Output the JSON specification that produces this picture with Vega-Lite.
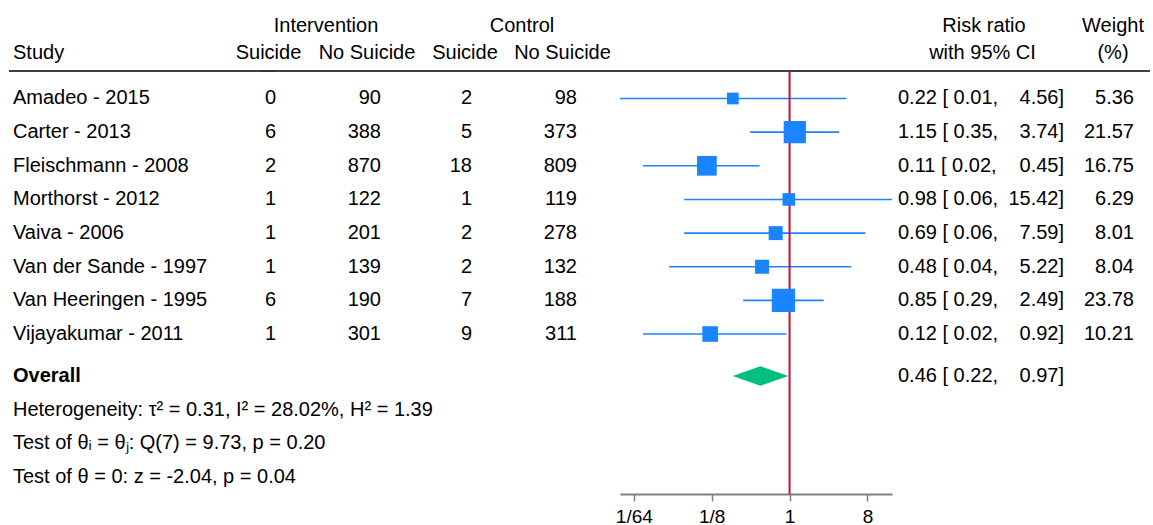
{
  "$schema": "https://vega.github.io/schema/vega-lite/v6.json",
  "padding": {"left": 8, "top": 15, "right": 4, "bottom": 0},
  "config": {
    "view": {"stroke": null},
    "font": "Liberation Sans",
    "text": {"fontSize": 20, "font": "Liberation Sans", "color": "black"},
    "title": {"fontSize": 20, "fontWeight": "normal", "font": "Liberation Sans", "color": "black", "frame": "group", "baseline": "alphabetic", "offset": 7.5, "anchor": "middle"}
  },
  "datasets": {
    "studies": [
      {"label": "Amadeo - 2015", "is": 0, "ins": 90, "cs": 2, "cns": 98, "rr": 0.22, "lo": 0.0108, "hi": 4.56, "w": 5.36},
      {"label": "Carter - 2013", "is": 6, "ins": 388, "cs": 5, "cns": 373, "rr": 1.15, "lo": 0.35, "hi": 3.74, "w": 21.57},
      {"label": "Fleischmann - 2008", "is": 2, "ins": 870, "cs": 18, "cns": 809, "rr": 0.11, "lo": 0.02, "hi": 0.45, "w": 16.75},
      {"label": "Morthorst - 2012", "is": 1, "ins": 122, "cs": 1, "cns": 119, "rr": 0.98, "lo": 0.06, "hi": 15.42, "w": 6.29},
      {"label": "Vaiva - 2006", "is": 1, "ins": 201, "cs": 2, "cns": 278, "rr": 0.69, "lo": 0.06, "hi": 7.59, "w": 8.01},
      {"label": "Van der Sande - 1997", "is": 1, "ins": 139, "cs": 2, "cns": 132, "rr": 0.48, "lo": 0.04, "hi": 5.22, "w": 8.04},
      {"label": "Van Heeringen - 1995", "is": 6, "ins": 190, "cs": 7, "cns": 188, "rr": 0.85, "lo": 0.29, "hi": 2.49, "w": 23.78},
      {"label": "Vijayakumar - 2011", "is": 1, "ins": 301, "cs": 9, "cns": 311, "rr": 0.12, "lo": 0.02, "hi": 0.92, "w": 10.21}
    ],
    "overall": [
      {"label": "Overall", "rr": 0.46, "lo": 0.22, "hi": 0.97}
    ],
    "stats": [
      {"label": "Heterogeneity: τ² = 0.31, I² = 28.02%, H² = 1.39"},
      {"label": "Test of θᵢ = θⱼ: Q(7) = 9.73, p = 0.20"},
      {"label": "Test of θ = 0: z = -2.04, p = 0.04"}
    ]
  },
  "spacing": 0,
  "bounds": "flush",
  "hconcat": [
    {
      "width": 250, "height": 423,
      "title": {"text": "Study", "anchor": "start", "dx": 4},
      "layer": [
        {"data": {"name": "overall"}, "mark": {"type": "rule", "color": "black", "strokeWidth": 1.6}, "encoding": {"x": {"value": 0}, "x2": {"value": "width"}, "y": {"value": 0}}},
        {"data": {"name": "studies"}, "mark": {"type": "text", "align": "left", "dx": 4},
         "encoding": {"x": {"value": 0}, "text": {"field": "label"},
          "y": {"field": "label", "type": "nominal", "axis": null, "scale": {"type": "point", "domain": ["Amadeo - 2015","Carter - 2013","Fleischmann - 2008","Morthorst - 2012","Vaiva - 2006","Van der Sande - 1997","Van Heeringen - 1995","Vijayakumar - 2011","Overall","Heterogeneity: τ² = 0.31, I² = 28.02%, H² = 1.39","Test of θᵢ = θⱼ: Q(7) = 9.73, p = 0.20","Test of θ = 0: z = -2.04, p = 0.04"], "padding": 0.7855, "align": 0.52}}}},
        {"data": {"name": "overall"}, "mark": {"type": "text", "align": "left", "dx": 4, "yOffset": 8.3, "fontWeight": "bold"},
         "encoding": {"x": {"value": 0}, "text": {"field": "label"}, "y": {"field": "label", "type": "nominal"}}},
        {"data": {"name": "stats"}, "mark": {"type": "text", "align": "left", "dx": 4, "yOffset": 8.3},
         "encoding": {"x": {"value": 0}, "text": {"field": "label"}, "y": {"field": "label", "type": "nominal"}}}
      ]
    },
    {
      "width": 1, "height": 423,
      "title": {"text": "Intervention", "dx": 66.5, "offset": 34.5},
      "layer": [
        {"data": {"name": "overall"}, "mark": {"type": "rule", "color": "black", "strokeWidth": 1.6}, "encoding": {"x": {"value": 0}, "x2": {"value": "width"}, "y": {"value": 0}}}
      ]
    },
    {
      "width": 16, "height": 423,
      "title": {"text": "Suicide", "dx": 0.5},
      "layer": [
        {"data": {"name": "overall"}, "mark": {"type": "rule", "color": "black", "strokeWidth": 1.6}, "encoding": {"x": {"value": 0}, "x2": {"value": "width"}, "y": {"value": 0}}},
        {"data": {"name": "studies"}, "mark": {"type": "text", "align": "right"},
         "encoding": {"x": {"value": "width"}, "text": {"field": "is", "type": "quantitative"},
          "y": {"field": "label", "type": "nominal", "axis": null, "scale": {"type": "point", "domain": ["Amadeo - 2015","Carter - 2013","Fleischmann - 2008","Morthorst - 2012","Vaiva - 2006","Van der Sande - 1997","Van Heeringen - 1995","Vijayakumar - 2011","Overall","Heterogeneity: τ² = 0.31, I² = 28.02%, H² = 1.39","Test of θᵢ = θⱼ: Q(7) = 9.73, p = 0.20","Test of θ = 0: z = -2.04, p = 0.04"], "padding": 0.7855, "align": 0.52}}}}
      ]
    },
    {
      "width": 105, "height": 423,
      "title": {"text": "No Suicide", "dx": 38.5},
      "layer": [
        {"data": {"name": "overall"}, "mark": {"type": "rule", "color": "black", "strokeWidth": 1.6}, "encoding": {"x": {"value": 0}, "x2": {"value": "width"}, "y": {"value": 0}}},
        {"data": {"name": "studies"}, "mark": {"type": "text", "align": "right"},
         "encoding": {"x": {"value": "width"}, "text": {"field": "ins", "type": "quantitative"},
          "y": {"field": "label", "type": "nominal", "axis": null, "scale": {"type": "point", "domain": ["Amadeo - 2015","Carter - 2013","Fleischmann - 2008","Morthorst - 2012","Vaiva - 2006","Van der Sande - 1997","Van Heeringen - 1995","Vijayakumar - 2011","Overall","Heterogeneity: τ² = 0.31, I² = 28.02%, H² = 1.39","Test of θᵢ = θⱼ: Q(7) = 9.73, p = 0.20","Test of θ = 0: z = -2.04, p = 0.04"], "padding": 0.7855, "align": 0.52}}}}
      ]
    },
    {
      "width": 1, "height": 423,
      "title": {"text": "Control", "dx": 140.5, "offset": 34.5},
      "layer": [
        {"data": {"name": "overall"}, "mark": {"type": "rule", "color": "black", "strokeWidth": 1.6}, "encoding": {"x": {"value": 0}, "x2": {"value": "width"}, "y": {"value": 0}}}
      ]
    },
    {
      "width": 90, "height": 423,
      "title": {"text": "Suicide", "dx": 38},
      "layer": [
        {"data": {"name": "overall"}, "mark": {"type": "rule", "color": "black", "strokeWidth": 1.6}, "encoding": {"x": {"value": 0}, "x2": {"value": "width"}, "y": {"value": 0}}},
        {"data": {"name": "studies"}, "mark": {"type": "text", "align": "right"},
         "encoding": {"x": {"value": "width"}, "text": {"field": "cs", "type": "quantitative"},
          "y": {"field": "label", "type": "nominal", "axis": null, "scale": {"type": "point", "domain": ["Amadeo - 2015","Carter - 2013","Fleischmann - 2008","Morthorst - 2012","Vaiva - 2006","Van der Sande - 1997","Van Heeringen - 1995","Vijayakumar - 2011","Overall","Heterogeneity: τ² = 0.31, I² = 28.02%, H² = 1.39","Test of θᵢ = θⱼ: Q(7) = 9.73, p = 0.20","Test of θ = 0: z = -2.04, p = 0.04"], "padding": 0.7855, "align": 0.52}}}}
      ]
    },
    {
      "width": 148, "height": 423,
      "title": {"text": "No Suicide", "dx": 16.5},
      "layer": [
        {"data": {"name": "overall"}, "mark": {"type": "rule", "color": "black", "strokeWidth": 1.6}, "encoding": {"x": {"value": 0}, "x2": {"value": "width"}, "y": {"value": 0}}},
        {"data": {"name": "studies"}, "mark": {"type": "text", "align": "right", "dx": -43},
         "encoding": {"x": {"value": "width"}, "text": {"field": "cns", "type": "quantitative"},
          "y": {"field": "label", "type": "nominal", "axis": null, "scale": {"type": "point", "domain": ["Amadeo - 2015","Carter - 2013","Fleischmann - 2008","Morthorst - 2012","Vaiva - 2006","Van der Sande - 1997","Van Heeringen - 1995","Vijayakumar - 2011","Overall","Heterogeneity: τ² = 0.31, I² = 28.02%, H² = 1.39","Test of θᵢ = θⱼ: Q(7) = 9.73, p = 0.20","Test of θ = 0: z = -2.04, p = 0.04"], "padding": 0.7855, "align": 0.52}}}}
      ]
    },
    {
      "width": 272, "height": 423,
      "layer": [
        {"data": {"name": "overall"}, "mark": {"type": "rule", "color": "black", "strokeWidth": 1.6}, "encoding": {"x": {"value": 0}, "x2": {"value": "width"}, "y": {"value": 0}}},
        {"data": {"name": "studies"}, "mark": {"type": "rule", "color": "#1A85FF", "strokeWidth": 1.6},
         "encoding": {
          "x": {"field": "lo", "type": "quantitative", "scale": {"type": "log", "base": 2, "nice": false, "zero": false},
                "axis": {"values": [0.015625, 0.125, 1, 8], "labelExpr": "datum.value < 1 ? '1/' + round(1 / datum.value) : '' + datum.value", "domainColor": "#808080", "domainWidth": 2, "tickColor": "#808080", "tickWidth": 1.5, "tickSize": 7, "labelFontSize": 19, "labelColor": "black", "labelFont": "Liberation Sans", "labelPadding": 6, "grid": false, "title": null, "labelFlush": false}},
          "x2": {"field": "hi"},
          "y": {"field": "label", "type": "nominal", "axis": null, "scale": {"type": "point", "domain": ["Amadeo - 2015","Carter - 2013","Fleischmann - 2008","Morthorst - 2012","Vaiva - 2006","Van der Sande - 1997","Van Heeringen - 1995","Vijayakumar - 2011","Overall","Heterogeneity: τ² = 0.31, I² = 28.02%, H² = 1.39","Test of θᵢ = θⱼ: Q(7) = 9.73, p = 0.20","Test of θ = 0: z = -2.04, p = 0.04"], "padding": 0.7855, "align": 0.52}}}},
        {"data": {"name": "overall"}, "mark": {"type": "rule", "color": "#C8102E", "strokeWidth": 2}, "encoding": {"x": {"datum": 1}}},
        {"data": {"name": "studies"}, "mark": {"type": "point", "shape": "square", "filled": true, "color": "#1A85FF", "opacity": 1, "strokeWidth": 0},
         "encoding": {"x": {"field": "rr", "type": "quantitative"}, "y": {"field": "label", "type": "nominal"},
          "size": {"field": "w", "type": "quantitative", "scale": {"domain": [0, 25], "range": [20, 570], "zero": false}, "legend": null}}},
        {"data": {"name": "overall"}, "mark": {"type": "point", "shape": "M -1 0 L 0 -0.35 L 1 0 L 0 0.35 Z", "filled": true, "color": "#00BF7F", "opacity": 1, "strokeWidth": 0, "size": 3100, "yOffset": 8.3},
         "encoding": {"x": {"field": "rr", "type": "quantitative"}, "y": {"field": "label", "type": "nominal"}}}
      ]
    },
    {
      "width": 1, "height": 423,
      "title": {"text": "Risk ratio", "dx": 91.5, "offset": 34.5},
      "layer": [
        {"data": {"name": "overall"}, "mark": {"type": "rule", "color": "black", "strokeWidth": 1.6}, "encoding": {"x": {"value": 0}, "x2": {"value": "width"}, "y": {"value": 0}}}
      ]
    },
    {
      "width": 171, "height": 423,
      "title": {"text": "with 95% CI", "dx": 4},
      "layer": [
        {"data": {"name": "overall"}, "mark": {"type": "rule", "color": "black", "strokeWidth": 1.6}, "encoding": {"x": {"value": 0}, "x2": {"value": "width"}, "y": {"value": 0}}},
        {"data": {"name": "studies"}, "mark": {"type": "text", "align": "left", "dx": 5, "text": {"expr": "format(datum.rr, '.2f') + ' [ ' + format(datum.lo, '.2f') + ','"}},
         "encoding": {"x": {"value": 0},
          "y": {"field": "label", "type": "nominal", "axis": null, "scale": {"type": "point", "domain": ["Amadeo - 2015","Carter - 2013","Fleischmann - 2008","Morthorst - 2012","Vaiva - 2006","Van der Sande - 1997","Van Heeringen - 1995","Vijayakumar - 2011","Overall","Heterogeneity: τ² = 0.31, I² = 28.02%, H² = 1.39","Test of θᵢ = θⱼ: Q(7) = 9.73, p = 0.20","Test of θ = 0: z = -2.04, p = 0.04"], "padding": 0.7855, "align": 0.52}}}},
        {"data": {"name": "studies"}, "mark": {"type": "text", "align": "right", "text": {"expr": "format(datum.hi, '.2f') + ']'"}},
         "encoding": {"x": {"value": "width"}, "y": {"field": "label", "type": "nominal"}}},
        {"data": {"name": "overall"}, "mark": {"type": "text", "align": "left", "dx": 5, "yOffset": 8.3, "text": {"expr": "format(datum.rr, '.2f') + ' [ ' + format(datum.lo, '.2f') + ','"}},
         "encoding": {"x": {"value": 0}, "y": {"field": "label", "type": "nominal"}}},
        {"data": {"name": "overall"}, "mark": {"type": "text", "align": "right", "yOffset": 8.3, "text": {"expr": "format(datum.hi, '.2f') + ']'"}},
         "encoding": {"x": {"value": "width"}, "y": {"field": "label", "type": "nominal"}}}
      ]
    },
    {
      "width": 1, "height": 423,
      "title": {"text": "Weight", "dx": 48.5, "offset": 34.5},
      "layer": [
        {"data": {"name": "overall"}, "mark": {"type": "rule", "color": "black", "strokeWidth": 1.6}, "encoding": {"x": {"value": 0}, "x2": {"value": "width"}, "y": {"value": 0}}}
      ]
    },
    {
      "width": 85, "height": 423,
      "title": {"text": "(%)", "dx": 5.5},
      "layer": [
        {"data": {"name": "overall"}, "mark": {"type": "rule", "color": "black", "strokeWidth": 1.6}, "encoding": {"x": {"value": 0}, "x2": {"value": "width"}, "y": {"value": 0}}},
        {"data": {"name": "studies"}, "mark": {"type": "text", "align": "right", "dx": -16},
         "encoding": {"x": {"value": "width"}, "text": {"field": "w", "type": "quantitative", "format": ".2f"},
          "y": {"field": "label", "type": "nominal", "axis": null, "scale": {"type": "point", "domain": ["Amadeo - 2015","Carter - 2013","Fleischmann - 2008","Morthorst - 2012","Vaiva - 2006","Van der Sande - 1997","Van Heeringen - 1995","Vijayakumar - 2011","Overall","Heterogeneity: τ² = 0.31, I² = 28.02%, H² = 1.39","Test of θᵢ = θⱼ: Q(7) = 9.73, p = 0.20","Test of θ = 0: z = -2.04, p = 0.04"], "padding": 0.7855, "align": 0.52}}}}
      ]
    }
  ]
}
